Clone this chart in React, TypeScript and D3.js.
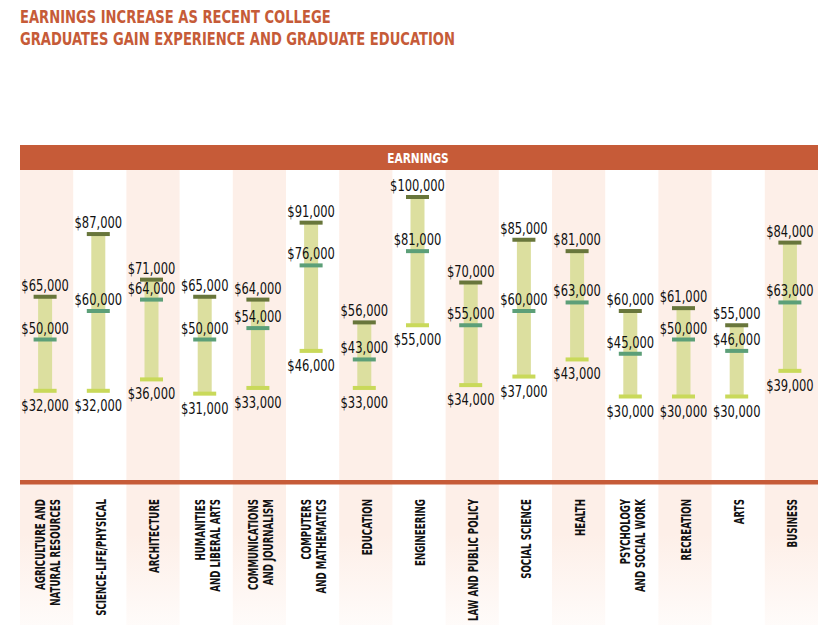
import React from "react";
import * as d3 from "d3";

const categories: string[][] = [
  ["AGRICULTURE AND", "NATURAL RESOURCES"],
  ["SCIENCE-LIFE/PHYSICAL"],
  ["ARCHITECTURE"],
  ["HUMANITIES", "AND LIBERAL ARTS"],
  ["COMMUNICATIONS", "AND JOURNALISM"],
  ["COMPUTERS", "AND MATHEMATICS"],
  ["EDUCATION"],
  ["ENGINEERING"],
  ["LAW AND PUBLIC POLICY"],
  ["SOCIAL SCIENCE"],
  ["HEALTH"],
  ["PSYCHOLOGY", "AND SOCIAL WORK"],
  ["RECREATION"],
  ["ARTS"],
  ["BUSINESS"],
];
const lowValues = [32000, 32000, 36000, 31000, 33000, 46000, 33000, 55000, 34000, 37000, 43000, 30000, 30000, 30000, 39000];
const medianValues = [50000, 60000, 64000, 50000, 54000, 76000, 43000, 81000, 55000, 60000, 63000, 45000, 50000, 46000, 63000];
const highValues = [65000, 87000, 71000, 65000, 64000, 91000, 56000, 100000, 70000, 85000, 81000, 60000, 61000, 55000, 84000];
const titleLines = ["EARNINGS INCREASE AS RECENT COLLEGE", "GRADUATES GAIN EXPERIENCE AND GRADUATE EDUCATION"];
const headerLabel = "EARNINGS";

const W = 822;
const H = 625;
const ORANGE = "#c65b38";
const SHADE = "#fdefe8";
const BAR = "#dcdf9f";
const HIGH_C = "#68763b";
const MED_C = "#5c9f78";
const LOW_C = "#c9d95a";
const FONT = "'DejaVu Sans Condensed', 'Liberation Sans Narrow', sans-serif";

export default function App() {
  const idx = categories.map((_, i) => i);
  const x = d3.scaleBand<number>().domain(idx).range([20, 818]).padding(0);
  const y = d3.scaleLinear().domain([0, 100000]).range([482, 197]);
  const fmt = (v: number) => "$" + d3.format(",")(v);
  const bw = x.bandwidth();

  const valueText = (cx: number, yy: number, v: number) => (
    <text transform={`translate(${cx},${yy}) scale(0.8,1)`} textAnchor="middle" fontFamily={FONT} fontSize={16} fill="#111">
      {fmt(v)}
    </text>
  );

  return (
    <svg width={W} height={H} style={{ position: "absolute", left: 0, top: 0, background: "#fff" }}>
      <defs>
        <linearGradient id="fade" x1="0" y1="0" x2="0" y2="1">
          <stop offset="0" stopColor={SHADE} stopOpacity={1} />
          <stop offset="0.8" stopColor={SHADE} stopOpacity={1} />
          <stop offset="1" stopColor={SHADE} stopOpacity={0.25} />
        </linearGradient>
      </defs>
      {titleLines.map((t, i) => (
        <text key={i} transform={`translate(20,${23 + i * 22}) scale(0.81,1)`} fill={ORANGE} fontFamily={FONT} fontWeight="bold" fontSize={18}>
          {t}
        </text>
      ))}
      {idx
        .filter((i) => i % 2 === 0)
        .map((i) => (
          <rect key={i} x={x(i)!} y={170} width={bw} height={H - 170} fill="url(#fade)" />
        ))}
      <rect x={20} y={145} width={798} height={25} fill={ORANGE} />
      <text transform="translate(418,163) scale(0.84,1)" textAnchor="middle" fill="#fff" fontFamily={FONT} fontWeight="bold" fontSize={14}>
        {headerLabel}
      </text>
      <rect x={20} y={480} width={798} height={4.5} fill={ORANGE} />
      {idx.map((i) => {
        const cx = x(i)! + bw / 2 - 1.5;
        const yl = y(lowValues[i]);
        const ym = y(medianValues[i]);
        const yh = y(highValues[i]);
        return (
          <g key={i}>
            <rect x={cx - 7} y={yh} width={14} height={yl - yh} fill={BAR} />
            <rect x={cx - 11.5} y={yh - 2} width={23} height={4} fill={HIGH_C} />
            <rect x={cx - 11.5} y={ym - 2} width={23} height={4} fill={MED_C} />
            <rect x={cx - 11.5} y={yl - 2} width={23} height={4} fill={LOW_C} />
            {valueText(cx, yh - 6, highValues[i])}
            {valueText(cx, ym - 6, medianValues[i])}
            {valueText(cx, yl + 20, lowValues[i])}
            <g transform={`translate(${x(i)! + bw / 2},499) rotate(-90)`}>
              {categories[i].map((line, j) => {
                const n = categories[i].length;
                const off = 6 + (j - (n - 1) / 2) * 15;
                return (
                  <text key={j} transform={`translate(0,${off}) scale(0.69,1)`} textAnchor="end" fontFamily={FONT} fontWeight="bold" fontSize={14} fill="#111">
                    {line}
                  </text>
                );
              })}
            </g>
          </g>
        );
      })}
    </svg>
  );
}
